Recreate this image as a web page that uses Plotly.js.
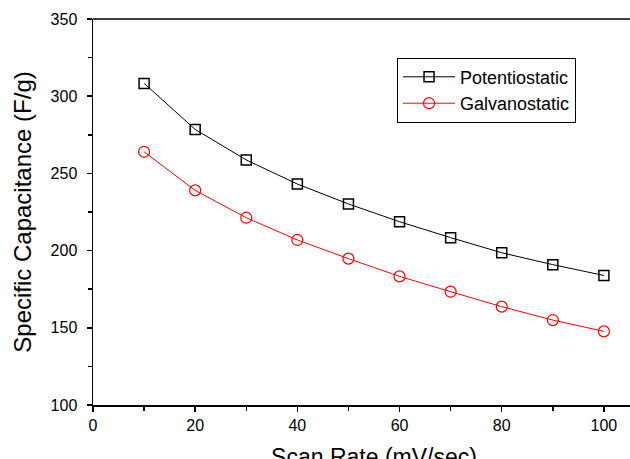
<!DOCTYPE html>
<html><head><meta charset="utf-8">
<script src="https://cdn.plot.ly/plotly-3.0.1.min.js"></script>
<style>html,body{margin:0;padding:0;overflow:hidden;background:#fff}</style>
</head><body>
<div id="chart" style="width:670px;height:480px"></div>
<script>
const scanRate = [10, 20, 30, 40, 50, 60, 70, 80, 90, 100];
const potentiostatic = [308.3, 278.5, 258.7, 243.1, 230.2, 218.7, 208.4, 198.6, 190.9, 183.9];
const galvanostatic = [264.0, 239.0, 221.3, 206.9, 194.8, 183.3, 173.4, 163.7, 155.0, 147.7];
const seriesNames = ['Potentiostatic', 'Galvanostatic'];

const font = 'Arial, "Liberation Sans", sans-serif';
const traces = [
  {x: scanRate, y: potentiostatic, name: seriesNames[0], type: 'scatter', mode: 'lines+markers',
   line: {color: '#000', width: 1},
   marker: {symbol: 'square-open', size: 10, color: '#000', line: {width: 1.5}}},
  {x: scanRate, y: galvanostatic, name: seriesNames[1], type: 'scatter', mode: 'lines+markers',
   line: {color: '#ff0000', width: 1},
   marker: {symbol: 'circle-open', size: 11, color: '#ff0000', line: {width: 1.2}}}
];
const layout = {
  width: 670, height: 480,
  margin: {l: 93, r: 15, t: 19, b: 75},
  paper_bgcolor: '#fff', plot_bgcolor: '#fff',
  showlegend: true,
  legend: {x: 0.541, y: 0.9, xanchor: 'left', yanchor: 'top',
    bordercolor: '#000', borderwidth: 1, bgcolor: '#fff', itemwidth: 52,
    font: {family: font, size: 18, color: '#000'}, tracegroupgap: 0},
  xaxis: {range: [0, 110], tickvals: [0, 20, 40, 60, 80, 100], ticks: 'outside', ticklen: 5, tickwidth: 1.5,
    tickcolor: '#000', showline: true, linecolor: '#000', linewidth: 1.5, mirror: false,
    showgrid: false, zeroline: false,
    minor: {tickvals: [10, 30, 50, 70, 90], ticks: 'outside', ticklen: 4, tickwidth: 1.5, tickcolor: '#000', showgrid: false},
    tickfont: {family: font, size: 16, color: '#000'},
    title: {text: 'Scan Rate (mV/sec)', font: {family: font, size: 23, color: '#000'}, standoff: 16}},
  yaxis: {range: [100, 350], tickvals: [100, 150, 200, 250, 300, 350], ticks: 'outside', ticklen: 5, tickwidth: 1.5,
    tickcolor: '#000', showline: true, linecolor: '#000', linewidth: 1.5,
    showgrid: false, zeroline: false, ticklabelstandoff: 6,
    minor: {tickvals: [125, 175, 225, 275, 325], ticks: 'outside', ticklen: 4, tickwidth: 1.5, tickcolor: '#000', showgrid: false},
    tickfont: {family: font, size: 16, color: '#000'},
    title: {text: 'Specific Capacitance (F/g)', font: {family: font, size: 24, color: '#000'}, standoff: 12}},
  shapes: [{type: 'line', xref: 'paper', yref: 'paper', x0: 0, x1: 1, y0: 1, y1: 1, line: {color: '#000', width: 1.5}}]
};
Plotly.newPlot('chart', traces, layout, {displayModeBar: false, staticPlot: true});
</script>
</body></html>
